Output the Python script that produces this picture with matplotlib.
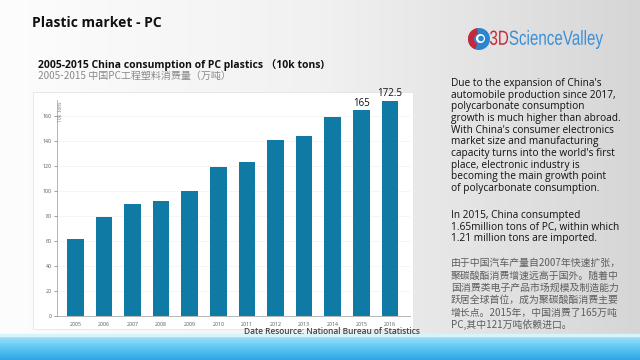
import numpy as np
import matplotlib.pyplot as plt
from matplotlib.colors import LinearSegmentedColormap
from matplotlib.patches import Rectangle, Circle, Wedge, PathPatch
from matplotlib.textpath import TextPath
from matplotlib.font_manager import FontProperties
from matplotlib.transforms import Affine2D

plt.rcParams['font.family'] = ['Open Sans', 'Noto Sans CJK SC', 'DejaVu Sans']

# data
years = ['2005', '2006', '2007', '2008', '2009', '2010',
         '2011', '2012', '2013', '2014', '2015', '2016']
consumption = [62, 79, 90, 92.5, 100, 119, 123.5, 141, 144.5, 159.5, 165, 172.5]
labelled = {'2015': '165', '2016': '172.5'}
y_ticks = [0, 20, 40, 60, 80, 100, 120, 140, 160]

title = 'Plastic market - PC'
sub_en = '2005-2015 China consumption of PC plastics （10k tons)'
sub_cn = '2005-2015 中国PC工程塑料消费量（万吨）'
source = 'Date Resource: National Bureau of Statistics'
para_en1 = ["Due to the expansion of China's",
            'automobile production since 2017,',
            'polycarbonate consumption',
            'growth is much higher than abroad.',
            "With China's consumer electronics",
            'market size and manufacturing',
            "capacity turns into the world's first",
            'place, electronic industry is',
            'becoming the main growth point',
            'of polycarbonate consumption.']
para_en2 = ['In 2015, China consumpted',
            '1.65million tons of PC, within which',
            '1.21 million tons are imported.']
para_cn = ['由于中国汽车产量自2007年快速扩张，',
           '聚碳酸酯消费增速远高于国外。随着中',
           '国消费类电子产品市场规模及制造能力',
           '跃居全球首位，成为聚碳酸酯消费主要',
           '增长点。2015年，中国消费了165万吨',
           'PC,其中121万吨依赖进口。']

W, H = 640, 360
fig = plt.figure(figsize=(6.4, 3.6), dpi=100)

def fx(px):
    return px / W

def fy(py):
    return 1 - py / H

# slide background
bg = fig.add_axes([0, 0, 1, 1])
bg.set_xlim(0, 1)
bg.set_ylim(0, 1)
bg.axis('off')
grey = LinearSegmentedColormap.from_list('g', ['#fdfdfd', '#f1f1f1', '#d6d6d6'])
grad = np.tile(np.linspace(0, 1, 256), (2, 1))
bg.imshow(grad, extent=[0, 1, 0, 1], aspect='auto', cmap=grey, zorder=0)
blue = LinearSegmentedColormap.from_list('b', ['#2fa6e4', '#5cc6f2', '#9fe2fb'])
vgrad = np.linspace(0, 1, 64)[:, None]
bg.imshow(vgrad, extent=[0, 1, 0, fy(336)], aspect='auto', cmap=blue,
          origin='lower', zorder=1)
bg.add_patch(Rectangle((0, fy(336)), 1, 2 / H, color='#d9f3fd', zorder=2))

# chart panel
bg.add_patch(Rectangle((fx(33), fy(329)), fx(380), (329 - 92) / H,
                       facecolor='white', edgecolor='#e4e4e4', lw=0.6, zorder=2))

# logo (pixel coordinates)
logo_ax = fig.add_axes([0, 0, 1, 1], facecolor='none')
logo_ax.set_xlim(0, W)
logo_ax.set_ylim(H, 0)
logo_ax.axis('off')
logo_ax.add_patch(Circle((479, 39), 11, facecolor='#2b86cf'))
logo_ax.add_patch(Wedge((479, 39), 11, 110, 260, width=6, facecolor='#c9283a'))
logo_ax.add_patch(Circle((480.5, 38.5), 4.5, facecolor='#ffffff'))
logo_ax.add_patch(Circle((481, 38.5), 2.8, facecolor='#2b86cf'))

prop = FontProperties(family='Liberation Sans')
full = TextPath((0, 0), '3DScienceValley', size=10, prop=prop)
part = TextPath((0, 0), 'ScienceValley', size=10, prop=prop)
red_part = TextPath((0, 0), '3D', size=10, prop=prop)
ext = full.get_extents()
shift = ext.x1 - part.get_extents().x1
# squeeze the word into the logo box
base = Affine2D().translate(-ext.x0, -ext.y0).scale(113 / ext.width, -19 / ext.height).translate(490, 49)
logo_ax.add_patch(PathPatch(base.transform_path(red_part), facecolor='#c9283a', edgecolor='none'))
moved = Affine2D().translate(shift, 0).transform_path(part)
logo_ax.add_patch(PathPatch(base.transform_path(moved), facecolor='#3a8fd6', edgecolor='none'))

# titles
fig.text(fx(32), fy(23), title, fontsize=10, fontweight='bold', va='center', color='#111111')
fig.text(fx(38), fy(65.5), sub_en, fontsize=7.5, fontweight='bold', va='center', color='#111111')
fig.text(fx(38), fy(76), sub_cn, fontsize=7.2, va='center', color='#8a8a8a',
         family=['Noto Sans CJK SC', 'DejaVu Sans'])

# right-hand text
y0 = 83.5
for i, line in enumerate(para_en1):
    fig.text(fx(451), fy(y0 + i * 11.65), line, fontsize=7.3, va='center', color='#111111')
y0 = 215.5
for i, line in enumerate(para_en2):
    fig.text(fx(451), fy(y0 + i * 11.65), line, fontsize=7.3, va='center', color='#111111')
y0 = 263
for i, line in enumerate(para_cn):
    fig.text(fx(451), fy(y0 + i * 12.4), line, fontsize=7.1, va='center', color='#5e5e5e',
             family=['Noto Sans CJK SC', 'DejaVu Sans'])

# bar chart
ax = fig.add_axes([fx(57), fy(316), fx(410 - 57), (316 - 100) / H], facecolor='none')
x = np.arange(len(years))
ax.bar(x, consumption, width=0.58, color='#0f7aa3', zorder=3)
for xi, yr, val in zip(x, years, consumption):
    if yr in labelled:
        ax.text(xi, val + 1, labelled[yr], ha='center', va='bottom', fontsize=7, color='#111111')
ax.set_xlim(-0.64, 11.7)
ax.set_ylim(0, 173)
ax.set_xticks(x)
ax.set_xticklabels(years)
ax.set_yticks(y_ticks)
ax.tick_params(axis='both', labelsize=3.8, colors='#555555', length=2, width=0.4, pad=2)
ax.tick_params(axis='x', length=0, pad=4)
ax.grid(axis='y', color='#f2f2f2', lw=0.5, zorder=0)
for s in ['top', 'right']:
    ax.spines[s].set_visible(False)
for s in ['left', 'bottom']:
    ax.spines[s].set_color('#999999')
    ax.spines[s].set_linewidth(0.5)
ax.text(-0.52, 172, '10k  tons', rotation=90, fontsize=3.5, color='#777777', va='top', ha='center')

fig.text(fx(420), fy(331), source, fontsize=6, fontweight='semibold', ha='right',
         va='center', color='#444444')

fig.savefig('out.png', dpi=100)
